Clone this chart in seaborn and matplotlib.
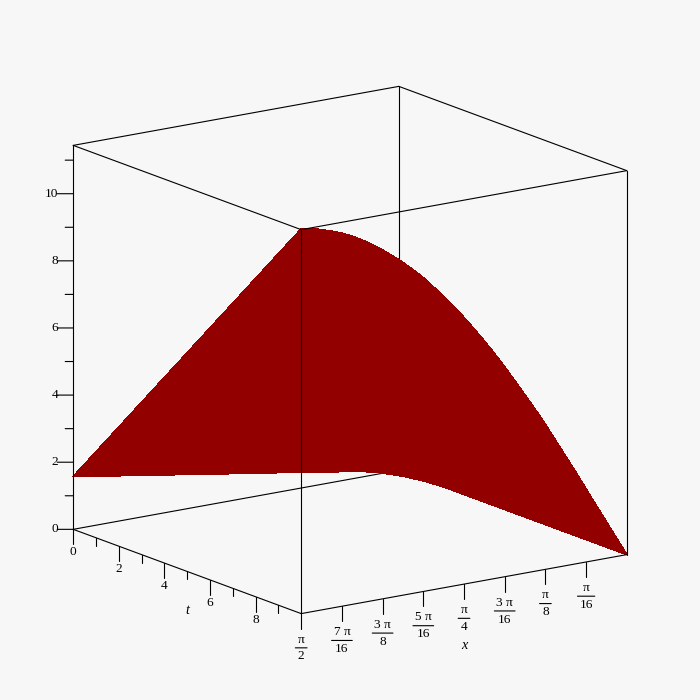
import numpy as np
import matplotlib
matplotlib.use('Agg')
import matplotlib.pyplot as plt
from mpl_toolkits.mplot3d import proj3d
import seaborn as sns

# values
x_vals = [0.000, 0.049, 0.098, 0.147, 0.196, 0.245, 0.295, 0.344, 0.393, 0.442, 0.491,
          0.540, 0.589, 0.638, 0.687, 0.736, 0.785, 0.834, 0.884, 0.933, 0.982, 1.031,
          1.080, 1.129, 1.178, 1.227, 1.276, 1.325, 1.374, 1.424, 1.473, 1.522, 1.571]
z_t0 = [0.00, 0.05, 0.10, 0.15, 0.20, 0.25, 0.29, 0.34, 0.39, 0.44, 0.49,
        0.54, 0.59, 0.64, 0.69, 0.74, 0.79, 0.83, 0.88, 0.93, 0.98, 1.03,
        1.08, 1.13, 1.18, 1.23, 1.28, 1.33, 1.37, 1.42, 1.47, 1.52, 1.57]
z_t10 = [0.00, 0.54, 1.08, 1.62, 2.17, 2.72, 3.26, 3.79, 4.32, 4.82, 5.30,
         5.78, 6.25, 6.70, 7.13, 7.54, 7.94, 8.31, 8.67, 9.02, 9.35, 9.64,
         9.91, 10.16, 10.39, 10.60, 10.80, 10.97, 11.11, 11.23, 11.33, 11.42, 11.46]
t_vals = [0, 10]

x_lim = (0, 1.5708)
t_lim = (0, 10)
z_lim = (0, 11.44)

t_major = [0, 2, 4, 6, 8]
t_minor = [1, 3, 5, 7, 9]
z_major = [0, 2, 4, 6, 8, 10]
z_minor = [1, 3, 5, 7, 9, 11]
x_ticks = [1.5708, 1.3744, 1.1781, 0.9817, 0.7854, 0.5890, 0.3927, 0.1963]
x_num = ['π', '7 π', '3 π', '5 π', 'π', '3 π', 'π', 'π']
x_den = ['2', '16', '8', '16', '4', '16', '8', '16']
x_bar = [11.7, 20.7, 20.7, 20.7, 11.7, 20.7, 11.7, 17.3]

BG = '#f7f7f7'
RED = '#930000'
LINE = '#000000'
LW = 0.8
PX_Z = 33.54  # pixels per z unit, used for the tick offsets

sns.set_theme(style='white', rc={'figure.facecolor': BG, 'savefig.facecolor': BG,
                                 'axes.facecolor': BG})
plt.rcParams['font.family'] = ['Liberation Serif', 'DejaVu Serif']

fig = plt.figure(figsize=(7, 7), dpi=100)
ax = fig.add_axes([0, 0, 0.9737, 0.9737], projection='3d', computed_zorder=False)
ax.set_proj_type('ortho')
ax.view_init(elev=15, azim=-35)
ax.set_box_aspect((1, 1, 1), zoom=0.9806)
ax.set_xlim(*t_lim, view_margin=0)
ax.set_ylim(x_lim[1], x_lim[0], view_margin=0)
ax.set_zlim(*z_lim, view_margin=0)
ax.set_axis_off()

x0, x1 = x_lim
t0, t1 = t_lim
z0, z1 = z_lim


def edge(p, q, zorder):
    ax.plot([p[1], q[1]], [p[0], q[0]], [p[2], q[2]], color=LINE, lw=LW, zorder=zorder)


def label(t, x, z, s, ha='center', **kw):
    # project by hand so the text is a plain 2D text at its real place
    px, py, _ = proj3d.proj_transform(t, x, z, ax.get_proj())
    ax.text2D(px, py, s, transform=ax.transData, ha=ha, va='center', color=LINE, **kw)


# back edges go under the surface
edge((x1, t0, z0), (x0, t0, z0), 1)
edge((x0, t0, z0), (x0, t1, z0), 1)
edge((x0, t0, z0), (x0, t0, z1), 1)

T, X = np.meshgrid(t_vals, x_vals)
Z = np.column_stack([z_t0, z_t10])
ax.plot_surface(T, X, Z, color=RED, shade=False, rstride=1, cstride=1,
                linewidth=0.5, edgecolor=RED, antialiased=False, zorder=2)

# front edges
edge((x1, t0, z0), (x1, t1, z0), 3)
edge((x1, t1, z0), (x0, t1, z0), 3)
edge((x1, t0, z0), (x1, t0, z1), 3)
edge((x1, t1, z0), (x1, t1, z1), 3)
edge((x0, t1, z0), (x0, t1, z1), 3)
edge((x1, t0, z1), (x1, t1, z1), 3)
edge((x1, t1, z1), (x0, t1, z1), 3)
edge((x0, t1, z1), (x0, t0, z1), 3)
edge((x0, t0, z1), (x1, t0, z1), 3)

MAJOR = 15 / PX_Z
MINOR = 8 / PX_Z
FS = 9.6

# one screen pixel to the left, in t and x units
left_x = 0.03297 * x1 / 16
left_t = 0.231 / 16

# t axis
for t in t_major:
    ax.plot([t, t], [x1, x1], [0, -MAJOR], color=LINE, lw=LW, zorder=3)
    label(t, x1, -23 / PX_Z, str(t), fontsize=FS)
for t in t_minor:
    ax.plot([t, t], [x1, x1], [0, -MINOR], color=LINE, lw=LW, zorder=3)
label(5, x1, -38.7 / PX_Z, 't', fontsize=FS + 0.6, style='italic')

# x axis, fractions stacked by hand
for xv, num, den, bar in zip(x_ticks, x_num, x_den, x_bar):
    ax.plot([t1, t1], [xv, xv], [0, -MAJOR], color=LINE, lw=LW, zorder=3)
    bar_z = -34.2 / PX_Z
    ax.plot([t1 - bar / 2 * left_t, t1 + bar / 2 * left_t],
            [xv + bar / 2 * left_x, xv - bar / 2 * left_x],
            [bar_z, bar_z], color=LINE, lw=LW, zorder=3)
    label(t1, xv, bar_z + 8.3 / PX_Z, num, fontsize=FS)
    label(t1, xv, bar_z - 8.6 / PX_Z, den, fontsize=FS)
label(t1, 0.7854, -61 / PX_Z, 'x', fontsize=FS + 0.6, style='italic')

# z axis, ticks go straight left on screen
for z in z_major:
    ax.plot([t0, t0 - 16 * left_t], [x1, x1 + 16 * left_x], [z, z], color=LINE, lw=LW, zorder=3)
    label(t0 - 15 * left_t, x1 + 15 * left_x, z, str(z), ha='right', fontsize=FS)
for z in z_minor:
    ax.plot([t0, t0 - 8 * left_t], [x1, x1 + 8 * left_x], [z, z], color=LINE, lw=LW, zorder=3)

fig.savefig('out.png', dpi=100)
